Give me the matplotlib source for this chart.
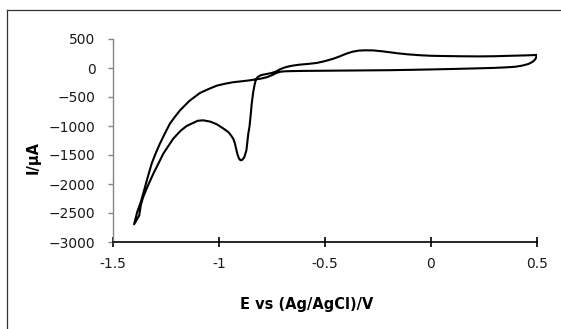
import matplotlib
matplotlib.use("Agg")
import matplotlib.pyplot as plt
from matplotlib.lines import Line2D

# Cyclic voltammogram, traced in path order
E_upper = [0.50, 0.45, 0.39, 0.30, 0.23, 0.15, 0.07, 0.0, -0.05, -0.11, -0.16, -0.19,
           -0.23, -0.27, -0.31, -0.34, -0.37, -0.40, -0.43, -0.46, -0.50, -0.54, -0.58,
           -0.62, -0.65, -0.67, -0.69, -0.71, -0.73, -0.75, -0.77, -0.80, -0.815, -0.825,
           -0.832, -0.838, -0.845, -0.850, -0.855, -0.861, -0.870, -0.880, -0.890, -0.898,
           -0.905, -0.912, -0.918, -0.925, -0.932, -0.945, -0.956, -0.98, -1.010, -1.04,
           -1.074, -1.10, -1.152, -1.18, -1.215, -1.262, -1.309, -1.335, -1.357, -1.368,
           -1.376]
I_upper = [224, 218, 212, 203, 200, 202, 206, 211, 220, 236, 255, 270,
           288, 303, 305, 300, 280, 245, 200, 160, 118, 86, 70,
           57, 42, 28, 8, -20, -60, -85, -100, -122, -150, -195,
           -300, -420, -620, -820, -1000, -1131, -1420, -1540, -1585, -1590,
           -1560, -1490, -1400, -1290, -1220, -1150, -1103, -1040, -970, -925,
           -902, -910, -1000, -1080, -1217, -1476, -1821, -2030, -2224, -2360,
           -2545]

E_lower = [-1.40, -1.385, -1.370, -1.357, -1.337, -1.317, -1.298, -1.278, -1.255, -1.231,
           -1.207, -1.183, -1.14, -1.089, -1.05, -1.010, -0.97, -0.932, -0.89, -0.853,
           -0.83, -0.80, -0.775, -0.75, -0.73, -0.71, -0.69, -0.65, -0.60, -0.50, -0.40,
           -0.30, -0.20, -0.10, 0.0, 0.10, 0.20, 0.30, 0.36, 0.40, 0.43, 0.46, 0.48,
           0.492, 0.498, 0.50]
I_lower = [-2695, -2480, -2330, -2166, -1900, -1648, -1470, -1303, -1130, -959,
           -840, -729, -570, -430, -365, -305, -270, -245, -228, -212,
           -198, -182, -160, -125, -88, -65, -57, -53, -50, -47, -44,
           -41, -38, -32, -25, -17, -8, 2, 12, 22, 40, 68, 105,
           145, 185, 224]

x_ticks = [-1.5, -1, -0.5, 0, 0.5]
x_labels = ["-1.5", "-1", "-0.5", "0", "0.5"]
y_ticks = [-3000, -2500, -2000, -1500, -1000, -500, 0, 500]

plt.rcParams['font.family'] = ['DejaVu Sans']

fig = plt.figure(figsize=(5.61, 3.29), dpi=100)
ax = fig.add_axes([112.9 / 561, 1 - 242 / 329, (536.7 - 112.9) / 561, (242 - 39) / 329])

E = E_upper + E_lower
I = I_upper + I_lower
ax.plot(E, I, color='black', lw=1.5, solid_joinstyle='round')

ax.set_xlim(-1.5, 0.5)
ax.set_ylim(-3000, 500)
ax.set_xticks(x_ticks)
ax.set_xticklabels(x_labels)
ax.set_yticks(y_ticks)

for s in ['top', 'right']:
    ax.spines[s].set_visible(False)
ax.spines['left'].set_color('#868686')
ax.spines['left'].set_linewidth(1.0)
ax.spines['bottom'].set_color('black')
ax.spines['bottom'].set_linewidth(1.2)

ax.tick_params(axis='y', direction='out', length=3.5, width=1.0, color='#868686',
               pad=9, labelsize=10, labelcolor='#1a1a1a')
ax.tick_params(axis='x', direction='inout', length=7.2, width=1.2, color='black',
               pad=7.5, labelsize=10, labelcolor='#1a1a1a')

fig.text(306.7 / 561, 1 - 304 / 329, "E vs (Ag/AgCl)/V", ha='center', va='center',
         fontsize=10.5, fontweight='bold')
fig.text(33 / 561, 1 - 157.5 / 329, "I/µA", ha='center', va='center', rotation=90,
         fontsize=10.5, fontweight='bold')

# chart-area border (left and top visible)
fig.add_artist(Line2D([7.3 / 561, 7.3 / 561], [0, 1 - 9.5 / 329], transform=fig.transFigure,
                      color='#333333', lw=0.9))
fig.add_artist(Line2D([7.3 / 561, 1], [1 - 9.5 / 329, 1 - 9.5 / 329], transform=fig.transFigure,
                      color='#333333', lw=0.9))

fig.savefig("out.png", dpi=100)
